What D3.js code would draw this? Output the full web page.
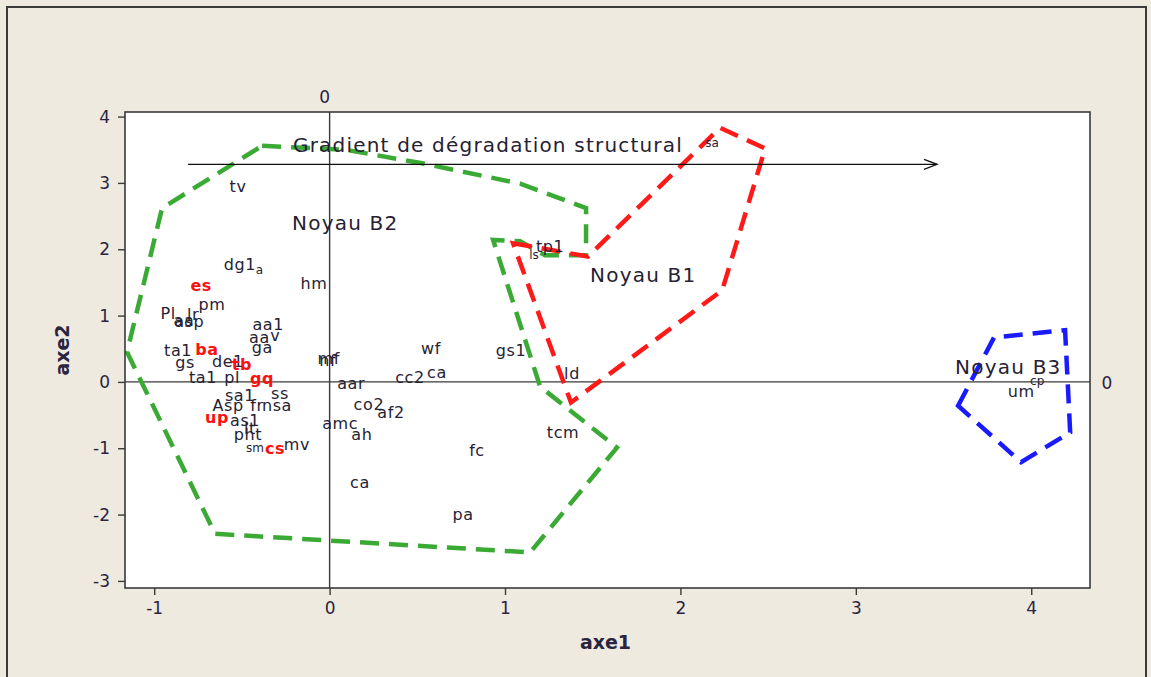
<!DOCTYPE html>
<html>
<head>
<meta charset="utf-8">
<script src="https://cdn.jsdelivr.net/npm/d3@7"></script>
<style>
  html, body { margin: 0; padding: 0; background: #EEEAE0; }
  svg { display: block; }
  text { font-family: "DejaVu Sans", Verdana, sans-serif; }
</style>
</head>
<body>
<svg id="chart" width="1151" height="677"></svg>
<script>
// Factorial plane (axe1 x axe2): site labels with their core groupings

const xTicks = [-1, 0, 1, 2, 3, 4];
const yTicks = [-3, -2, -1, 0, 1, 2, 3, 4];

// Site labels and their coordinates on axe1 / axe2
const siteLabels = ["sa","tv","dg1","a","hm","es","pm","Pl","lr","aa","asp","aa1","aa","v","ga",
  "ta1","ba","gs","de1","tb","ta1","pl","gq","sa1","ss","Asp","fr","nsa","up","as1","lt","pht",
  "sm","cs","mv","nf","mf","aar","co2","af2","amc","ah","wf","cc2","ca","gs1","ld","tcm","fc",
  "ca","pa","tp1","ls","cp","um"];
const siteAxe1 = [2.18,-0.522,-0.511,-0.40,-0.089,-0.732,-0.670,-0.921,-0.778,-0.83,-0.80,-0.35,-0.40,-0.31,-0.384,
  -0.864,-0.699,-0.824,-0.58,-0.50,-0.722,-0.556,-0.385,-0.511,-0.283,-0.579,-0.414,-0.30,-0.642,-0.482,-0.454,-0.465,
  -0.425,-0.311,-0.186,-0.01,-0.005,0.123,0.224,0.35,0.06,0.184,0.578,0.458,0.612,1.034,1.382,1.331,0.840,
  0.173,0.761,1.257,1.165,4.034,3.943];
const siteAxe2 = [3.60,2.95,1.77,1.68,1.49,1.46,1.17,1.03,1.02,0.92,0.91,0.87,0.67,0.70,0.52,
  0.47,0.49,0.29,0.31,0.26,0.07,0.07,0.05,-0.20,-0.17,-0.35,-0.35,-0.35,-0.53,-0.58,-0.70,-0.80,
  -1.00,-1.00,-0.94,0.33,0.35,-0.02,-0.34,-0.46,-0.63,-0.79,0.50,0.07,0.14,0.48,0.13,-0.76,-1.03,
  -1.52,-2.00,2.04,1.91,0.02,-0.14];
// Indicator sites highlighted in red
const highlighted = ["es","ba","tb","gq","up","cs"];
// Labels set in a smaller type
const smallLabels = ["sa","a","sm","cp","ls"];

// Core outlines (axe1, axe2 vertices)
const coreB2 = [[-0.385,3.56],[0.09,3.50],[0.52,3.30],[1.086,2.99],[1.462,2.62],[1.462,1.91],
  [1.228,1.91],[1.086,2.12],[0.932,2.14],[1.20,-0.07],[1.638,-0.99],[1.143,-2.57],
  [-0.653,-2.29],[-1.155,0.45],[-0.955,2.62]];
const coreB1 = [[1.046,2.09],[1.473,1.89],[2.226,3.83],[2.483,3.52],[2.238,1.38],[1.376,-0.31]];
const coreB3 = [[3.583,-0.36],[3.788,0.67],[4.193,0.78],[4.222,-0.76],[3.942,-1.21]];

const coreNames = ["Noyau B2","Noyau B1","Noyau B3"];
const coreNameX = [-0.214, 1.485, 3.566];
const coreNameY = [2.39, 1.61, 0.23];

const gradientText = "Gradient de dégradation structural";
const gradientFrom = [-0.807, 3.28];
const gradientTo = [3.463, 3.28];

const svg = d3.select("#chart");

// panel frame
svg.append("rect").attr("x", 7).attr("y", 7).attr("width", 1139).attr("height", 690)
  .attr("fill", "#EEEAE0").attr("stroke", "#3a3a3a").attr("stroke-width", 2);

const plot = { left: 125, right: 1090, top: 112, bottom: 588 };
const x = d3.scaleLinear().domain([-1.1665, 4.335]).range([plot.left, plot.right]);
const y = d3.scaleLinear().domain([-3.107, 4.069]).range([plot.bottom, plot.top]);

svg.append("rect").attr("x", plot.left).attr("y", plot.top)
  .attr("width", plot.right - plot.left).attr("height", plot.bottom - plot.top)
  .attr("fill", "#ffffff");

// reference lines through the origin
svg.append("line").attr("x1", plot.left).attr("x2", plot.right)
  .attr("y1", y(0)).attr("y2", y(0)).attr("stroke", "#3a3a3a").attr("stroke-width", 1.4);
svg.append("line").attr("x1", x(0)).attr("x2", x(0))
  .attr("y1", plot.top).attr("y2", plot.bottom).attr("stroke", "#3a3a3a").attr("stroke-width", 1.4);
svg.append("text").attr("x", x(0) - 5).attr("y", plot.top - 15).attr("text-anchor", "middle")
  .attr("dominant-baseline", "central").attr("font-size", 17).attr("fill", "#2a2440").text("0");
svg.append("text").attr("x", plot.right + 17).attr("y", y(0) + 1).attr("text-anchor", "middle")
  .attr("dominant-baseline", "central").attr("font-size", 17).attr("fill", "#2a2440").text("0");

// axes
const gx = svg.append("g").attr("transform", `translate(0,${plot.bottom})`)
  .call(d3.axisBottom(x).tickValues(xTicks).tickSize(7).tickPadding(7).tickFormat(d3.format("d")));
const gy = svg.append("g").attr("transform", `translate(${plot.left},0)`)
  .call(d3.axisLeft(y).tickValues(yTicks).tickSize(7).tickPadding(8).tickFormat(d3.format("d")));
[gx, gy].forEach(g => {
  g.select(".domain").remove();
  g.selectAll(".tick line").attr("stroke", "#3a3a3a").attr("stroke-width", 1.4);
  g.selectAll(".tick text").attr("font-size", 17).attr("fill", "#2a2440")
    .attr("font-family", "DejaVu Sans, Verdana, sans-serif");
});
gy.selectAll(".tick text").text(d => d < 0 ? "-" + Math.abs(d) : d);
gx.selectAll(".tick text").text(d => d < 0 ? "-" + Math.abs(d) : d);

// core outlines
const hull = d3.line().x(d => x(d[0])).y(d => y(d[1])).curve(d3.curveLinearClosed);
[[coreB2, "#3aaa35"], [coreB1, "#ff1a1a"], [coreB3, "#1a1aff"]].forEach(([pts, col]) => {
  svg.append("path").attr("d", hull(pts)).attr("fill", "none").attr("stroke", col)
    .attr("stroke-width", 4.5).attr("stroke-dasharray", "19 10").attr("stroke-linejoin", "miter");
});

// site labels
siteLabels.forEach((lab, i) => {
  const red = highlighted.includes(lab);
  const small = smallLabels.includes(lab);
  svg.append("text")
    .attr("x", x(siteAxe1[i])).attr("y", y(siteAxe2[i]))
    .attr("text-anchor", "middle").attr("dominant-baseline", "central")
    .attr("font-size", small ? 12 : 16)
    .attr("letter-spacing", small ? 0 : 0.6)
    .attr("font-weight", red ? "bold" : "normal")
    .attr("fill", red ? "#ff1010" : "#262233")
    .text(lab);
});

// core names
coreNames.forEach((n, i) => {
  svg.append("text").attr("x", x(coreNameX[i])).attr("y", y(coreNameY[i]))
    .attr("dominant-baseline", "central").attr("font-size", 20).attr("letter-spacing", 1.2)
    .attr("fill", "#262233").text(n);
});

// gradient arrow
svg.append("line").attr("x1", x(gradientFrom[0])).attr("y1", y(gradientFrom[1]))
  .attr("x2", x(gradientTo[0])).attr("y2", y(gradientTo[1]))
  .attr("stroke", "#111").attr("stroke-width", 1.3);
const ax = x(gradientTo[0]), ay = y(gradientTo[1]);
svg.append("path").attr("d", `M${ax - 13},${ay - 5}L${ax},${ay}L${ax - 13},${ay + 5}`)
  .attr("fill", "none").attr("stroke", "#111").attr("stroke-width", 1.3);
svg.append("text").attr("x", x(-0.209)).attr("y", y(3.57)).attr("dominant-baseline", "central")
  .attr("font-size", 20).attr("letter-spacing", 1.2).attr("fill", "#262233").text(gradientText);

// axis titles
svg.append("text").attr("x", (plot.left + plot.right) / 2 - 2).attr("y", 642)
  .attr("text-anchor", "middle").attr("dominant-baseline", "central")
  .attr("font-size", 19).attr("font-weight", "bold").attr("fill", "#2a2440").text("axe1");
svg.append("text").attr("transform", `translate(62,${(plot.top + plot.bottom) / 2}) rotate(-90)`)
  .attr("text-anchor", "middle").attr("dominant-baseline", "central")
  .attr("font-size", 19).attr("font-weight", "bold").attr("fill", "#2a2440").text("axe2");

// plot frame
svg.append("rect").attr("x", plot.left).attr("y", plot.top)
  .attr("width", plot.right - plot.left).attr("height", plot.bottom - plot.top)
  .attr("fill", "none").attr("stroke", "#3a3a3a").attr("stroke-width", 1.6);
</script>
</body>
</html>
